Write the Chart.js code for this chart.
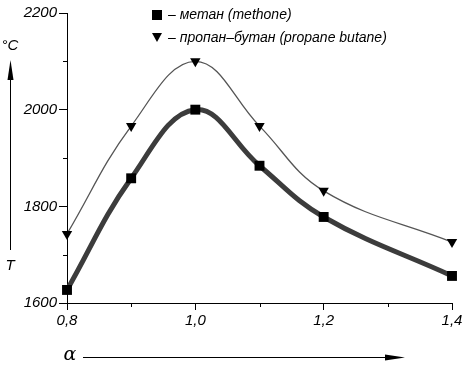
<!DOCTYPE html>
<html>
<head>
<meta charset="utf-8">
<script src="https://cdn.jsdelivr.net/npm/chart.js@4"></script>
<style>
  html, body { margin: 0; padding: 0; background: #fff; }
  #wrap { width: 465px; height: 372px; }
</style>
</head>
<body>
<div id="wrap"><canvas id="graph" width="465" height="372"></canvas></div>
<script>
// excess air ratio alpha
var alphaValues = [0.8, 0.9, 1.0, 1.1, 1.2, 1.4];
// flame temperature, deg C
var methaneT = [1627, 1858, 2000, 1884, 1778, 1656];
var propaneT = [1743, 1966, 2100, 1966, 1832, 1726];
var xMajorTicks = [0.8, 1.0, 1.2, 1.4];
var yMajorTicks = [1600, 1800, 2000, 2200];
var legendLabels = ['– метан (methone)', '– пропан–бутан (propane butane)'];

var FONT = 'italic 15px "Liberation Sans", "DejaVu Sans", sans-serif';

function toPoints(ys) {
  return alphaValues.map(function(x, i) { return { x: x, y: ys[i] }; });
}

function arrowHead(ctx, x, y, dir) {
  // dir: 'up' or 'right'
  ctx.beginPath();
  if (dir === 'up') {
    ctx.moveTo(x, y);
    ctx.lineTo(x - 3, y + 20);
    ctx.lineTo(x + 3, y + 20);
  } else {
    ctx.moveTo(x, y);
    ctx.lineTo(x - 20, y - 3);
    ctx.lineTo(x - 20, y + 3);
  }
  ctx.closePath();
  ctx.fill();
}

// minor ticks, axis titles with arrows and the legend
var extras = {
  id: 'extras',
  afterDraw: function(chart) {
    var ctx = chart.ctx;
    var xs = chart.scales.x, ys = chart.scales.y;
    ctx.save();
    ctx.strokeStyle = '#000';
    ctx.fillStyle = '#000';
    ctx.lineWidth = 1;

    // minor ticks
    [1700, 1900, 2100].forEach(function(v) {
      var py = Math.round(ys.getPixelForValue(v)) + 0.5;
      ctx.beginPath();
      ctx.moveTo(xs.left - 4, py);
      ctx.lineTo(xs.left, py);
      ctx.stroke();
    });
    [0.9, 1.1, 1.3].forEach(function(v) {
      var px = Math.round(xs.getPixelForValue(v)) + 0.5;
      ctx.beginPath();
      ctx.moveTo(px, ys.bottom);
      ctx.lineTo(px, ys.bottom + 4);
      ctx.stroke();
    });

    // y title: °C, arrow, T
    ctx.font = FONT;
    ctx.textAlign = 'center';
    ctx.textBaseline = 'middle';
    ctx.fillText('°C', 10, 46);
    ctx.beginPath();
    ctx.moveTo(10.5, 250);
    ctx.lineTo(10.5, 75);
    ctx.stroke();
    arrowHead(ctx, 10.5, 60, 'up');
    ctx.fillText('T', 10, 266);

    // x title: alpha with arrow
    ctx.font = 'italic 19px "DejaVu Serif", serif';
    ctx.fillText('α', 70, 355);
    ctx.beginPath();
    ctx.moveTo(83, 357.5);
    ctx.lineTo(390, 357.5);
    ctx.stroke();
    arrowHead(ctx, 405, 357.5, 'right');

    // legend
    ctx.font = 'italic 14px "Liberation Sans", "DejaVu Sans", sans-serif';
    ctx.textAlign = 'left';
    ctx.fillRect(152, 10, 10, 10);
    ctx.fillText(legendLabels[0], 168, 15);
    ctx.beginPath();
    ctx.moveTo(152, 33);
    ctx.lineTo(162, 33);
    ctx.lineTo(157, 42);
    ctx.closePath();
    ctx.fill();
    ctx.fillText(legendLabels[1], 168, 38);
    ctx.restore();
  }
};

var ctx = document.getElementById('graph').getContext('2d');
window.myChart = new Chart(ctx, {
  type: 'line',
  data: {
    datasets: [{
      label: 'methane',
      data: toPoints(methaneT),
      borderColor: '#3c3c3c',
      borderWidth: 5,
      tension: 0.4,
      pointStyle: 'rect',
      pointRadius: 7,
      pointBackgroundColor: '#000',
      pointBorderColor: '#000',
      pointBorderWidth: 0,
      clip: false
    },
    {
      label: 'propane butane',
      data: toPoints(propaneT),
      borderColor: '#555',
      borderWidth: 1.3,
      tension: 0.4,
      pointStyle: 'triangle',
      pointRotation: 180,
      pointRadius: 6,
      pointBackgroundColor: '#000',
      pointBorderColor: '#000',
      pointBorderWidth: 0,
      clip: false
    }]
  },
  options: {
    responsive: false,
    animation: false,
    layout: { padding: { left: 0, right: 13, top: 13, bottom: 0 } },
    plugins: {
      legend: { display: false },
      tooltip: { enabled: false }
    },
    scales: {
      x: {
        type: 'linear',
        min: 0.8,
        max: 1.4,
        afterBuildTicks: function(scale) {
          scale.ticks = xMajorTicks.map(function(v) { return { value: v }; });
        },
        afterFit: function(scale) { scale.height = 69; },
        border: { color: '#000', width: 1 },
        grid: { drawOnChartArea: false, tickLength: 7, color: '#000' },
        ticks: {
          color: '#000',
          font: { family: '"Liberation Sans", "DejaVu Sans", sans-serif', size: 15, style: 'italic' },
          padding: 2,
          maxRotation: 0,
          callback: function(v) { return v.toFixed(1).replace('.', ','); }
        }
      },
      y: {
        min: 1600,
        max: 2200,
        afterBuildTicks: function(scale) {
          scale.ticks = yMajorTicks.map(function(v) { return { value: v }; });
        },
        afterFit: function(scale) { scale.width = 67; },
        border: { color: '#000', width: 1 },
        grid: { drawOnChartArea: false, tickLength: 8, color: '#000' },
        ticks: {
          color: '#000',
          font: { family: '"Liberation Sans", "DejaVu Sans", sans-serif', size: 15, style: 'italic' },
          padding: 2,
          callback: function(v) { return String(v); }
        }
      }
    }
  },
  plugins: [extras]
});
</script>
</body>
</html>
